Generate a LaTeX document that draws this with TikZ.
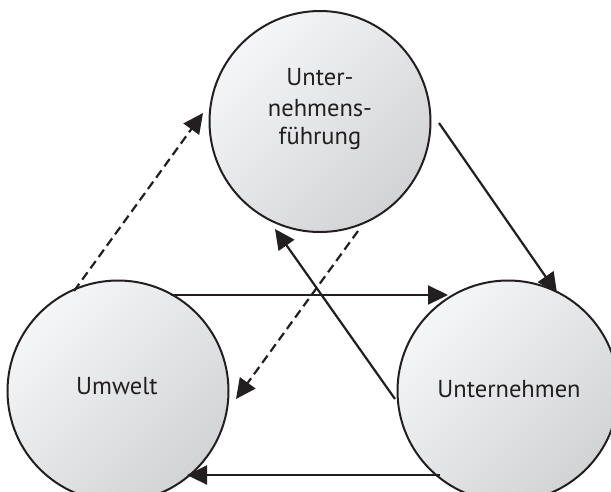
\documentclass[tikz,border=0pt]{standalone}
\usepackage{fontspec}
\setmainfont{PT Sans}
\usetikzlibrary{arrows.meta}
\definecolor{cLight}{HTML}{F5F6F7}
\definecolor{cDark}{HTML}{D2D3D5}
\definecolor{ink}{HTML}{231F20}
\begin{document}
\begin{tikzpicture}[x=1pt,y=-1pt,
  ball/.style={circle, draw=ink, line width=2pt, minimum size=221pt, inner sep=0pt,
    top color=cLight, bottom color=cDark, shading angle=45},
  lbl/.style={font=\fontsize{24.5}{30}\selectfont, anchor=base, text=ink, inner sep=0pt},
  conn/.style={draw=ink, line width=2.2pt, -{Triangle[length=20pt,width=19pt]}},
  dconn/.style={conn, dash pattern=on 9pt off 5pt}]
\useasboundingbox (0,0) rectangle (611,491);
\clip (0,0) rectangle (611,491);
\fill[white] (0,0) rectangle (611,491);
% circles
\node[ball] (T) at (320,121.5) {};
\node[ball] (L) at (118,391) {};
\node[ball] (R) at (508,391) {};
% texts
\node[lbl] (t1) at (320,85) {Unter-};
\node[lbl] (t2) at (320,116.5) {nehmens-};
\node[lbl] (t3) at (320,144) {führung};
\node[lbl] (tl) at (117,394) {Umwelt};
\node[lbl] (tr) at (509,397.5) {Unternehmen};
% connector end points
\coordinate (a1s) at (74,291);  \coordinate (a1e) at (203,113);
\coordinate (a2s) at (358,231); \coordinate (a2e) at (236,399);
\coordinate (a3s) at (171,295); \coordinate (a3e) at (448,295);
\coordinate (a4s) at (439,123); \coordinate (a4e) at (557,293);
\coordinate (a5s) at (395,399); \coordinate (a5e) at (275,229);
\coordinate (a6s) at (440,475); \coordinate (a6e) at (187,475);
% connectors
\draw[dconn] (a1s) -- (a1e);
\draw[dconn] (a2s) -- (a2e);
\draw[conn] (a3s) -- (a3e);
\draw[conn] (a4s) -- (a4e);
\draw[conn] (a5s) -- (a5e);
\draw[conn] (a6s) -- (a6e);
\end{tikzpicture}
\end{document}
